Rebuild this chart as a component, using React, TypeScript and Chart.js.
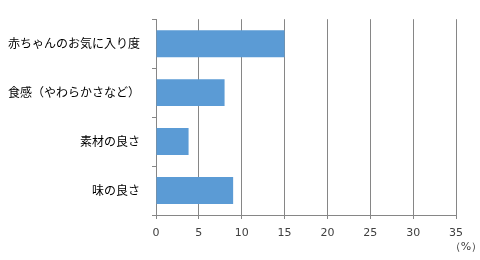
import React, { useEffect, useRef } from "react";
import { Chart, registerables } from "chart.js";

Chart.register(...registerables);

const categories = ["赤ちゃんのお気に入り度", "食感（やわらかさなど）", "素材の良さ", "味の良さ"];
const values = [15, 8, 3.8, 9];
const xTicks = [0, 5, 10, 15, 20, 25, 30, 35];
const unitLabel = "（%）";

export default function App() {
  const ref = useRef<HTMLCanvasElement | null>(null);
  useEffect(() => {
    document.body.style.margin = "0";
    const unitPlugin = {
      id: "unitLabel",
      afterDraw(chart: any) {
        const { ctx } = chart;
        const x = chart.scales.x;
        ctx.save();
        ctx.font = "11px 'DejaVu Sans'";
        ctx.fillStyle = "#404040";
        ctx.textAlign = "center";
        ctx.textBaseline = "middle";
        ctx.fillText(unitLabel, x.right + 10, 247);
        ctx.restore();
      },
    };
    const chart = new Chart(ref.current!, {
      type: "bar",
      data: {
        labels: categories,
        datasets: [
          {
            data: values,
            backgroundColor: "#5B9BD5",
            borderWidth: 0,
            barPercentage: 0.55,
            categoryPercentage: 1,
          },
        ],
      },
      options: {
        indexAxis: "y",
        animation: false,
        responsive: false,
        layout: { padding: { top: 17, right: 24, left: 0, bottom: 0 } },
        plugins: { legend: { display: false }, tooltip: { enabled: false } },
        scales: {
          x: {
            min: 0,
            max: 35,
            afterBuildTicks(scale: any) {
              scale.ticks = xTicks.map((v) => ({ value: v }));
            },
            afterFit(scale: any) {
              scale.height = 45;
            },
            grid: { color: "#868686", tickLength: 4, lineWidth: 1 },
            border: { color: "#868686" },
            ticks: {
              color: "#404040",
              font: { family: "'DejaVu Sans'", size: 11 },
              padding: 8,
              maxRotation: 0,
            },
          },
          y: {
            afterFit(scale: any) {
              scale.width = 156;
            },
            grid: { drawOnChartArea: false, color: "#868686", tickLength: 4, offset: true },
            border: { color: "#868686" },
            ticks: {
              color: "#000000",
              font: { family: "'Noto Sans CJK JP'", size: 12 },
              padding: 12,
            },
          },
        },
      },
      plugins: [unitPlugin],
    });
    return () => chart.destroy();
  }, []);
  return <canvas ref={ref} width={480} height={260} style={{ display: "block" }} />;
}
